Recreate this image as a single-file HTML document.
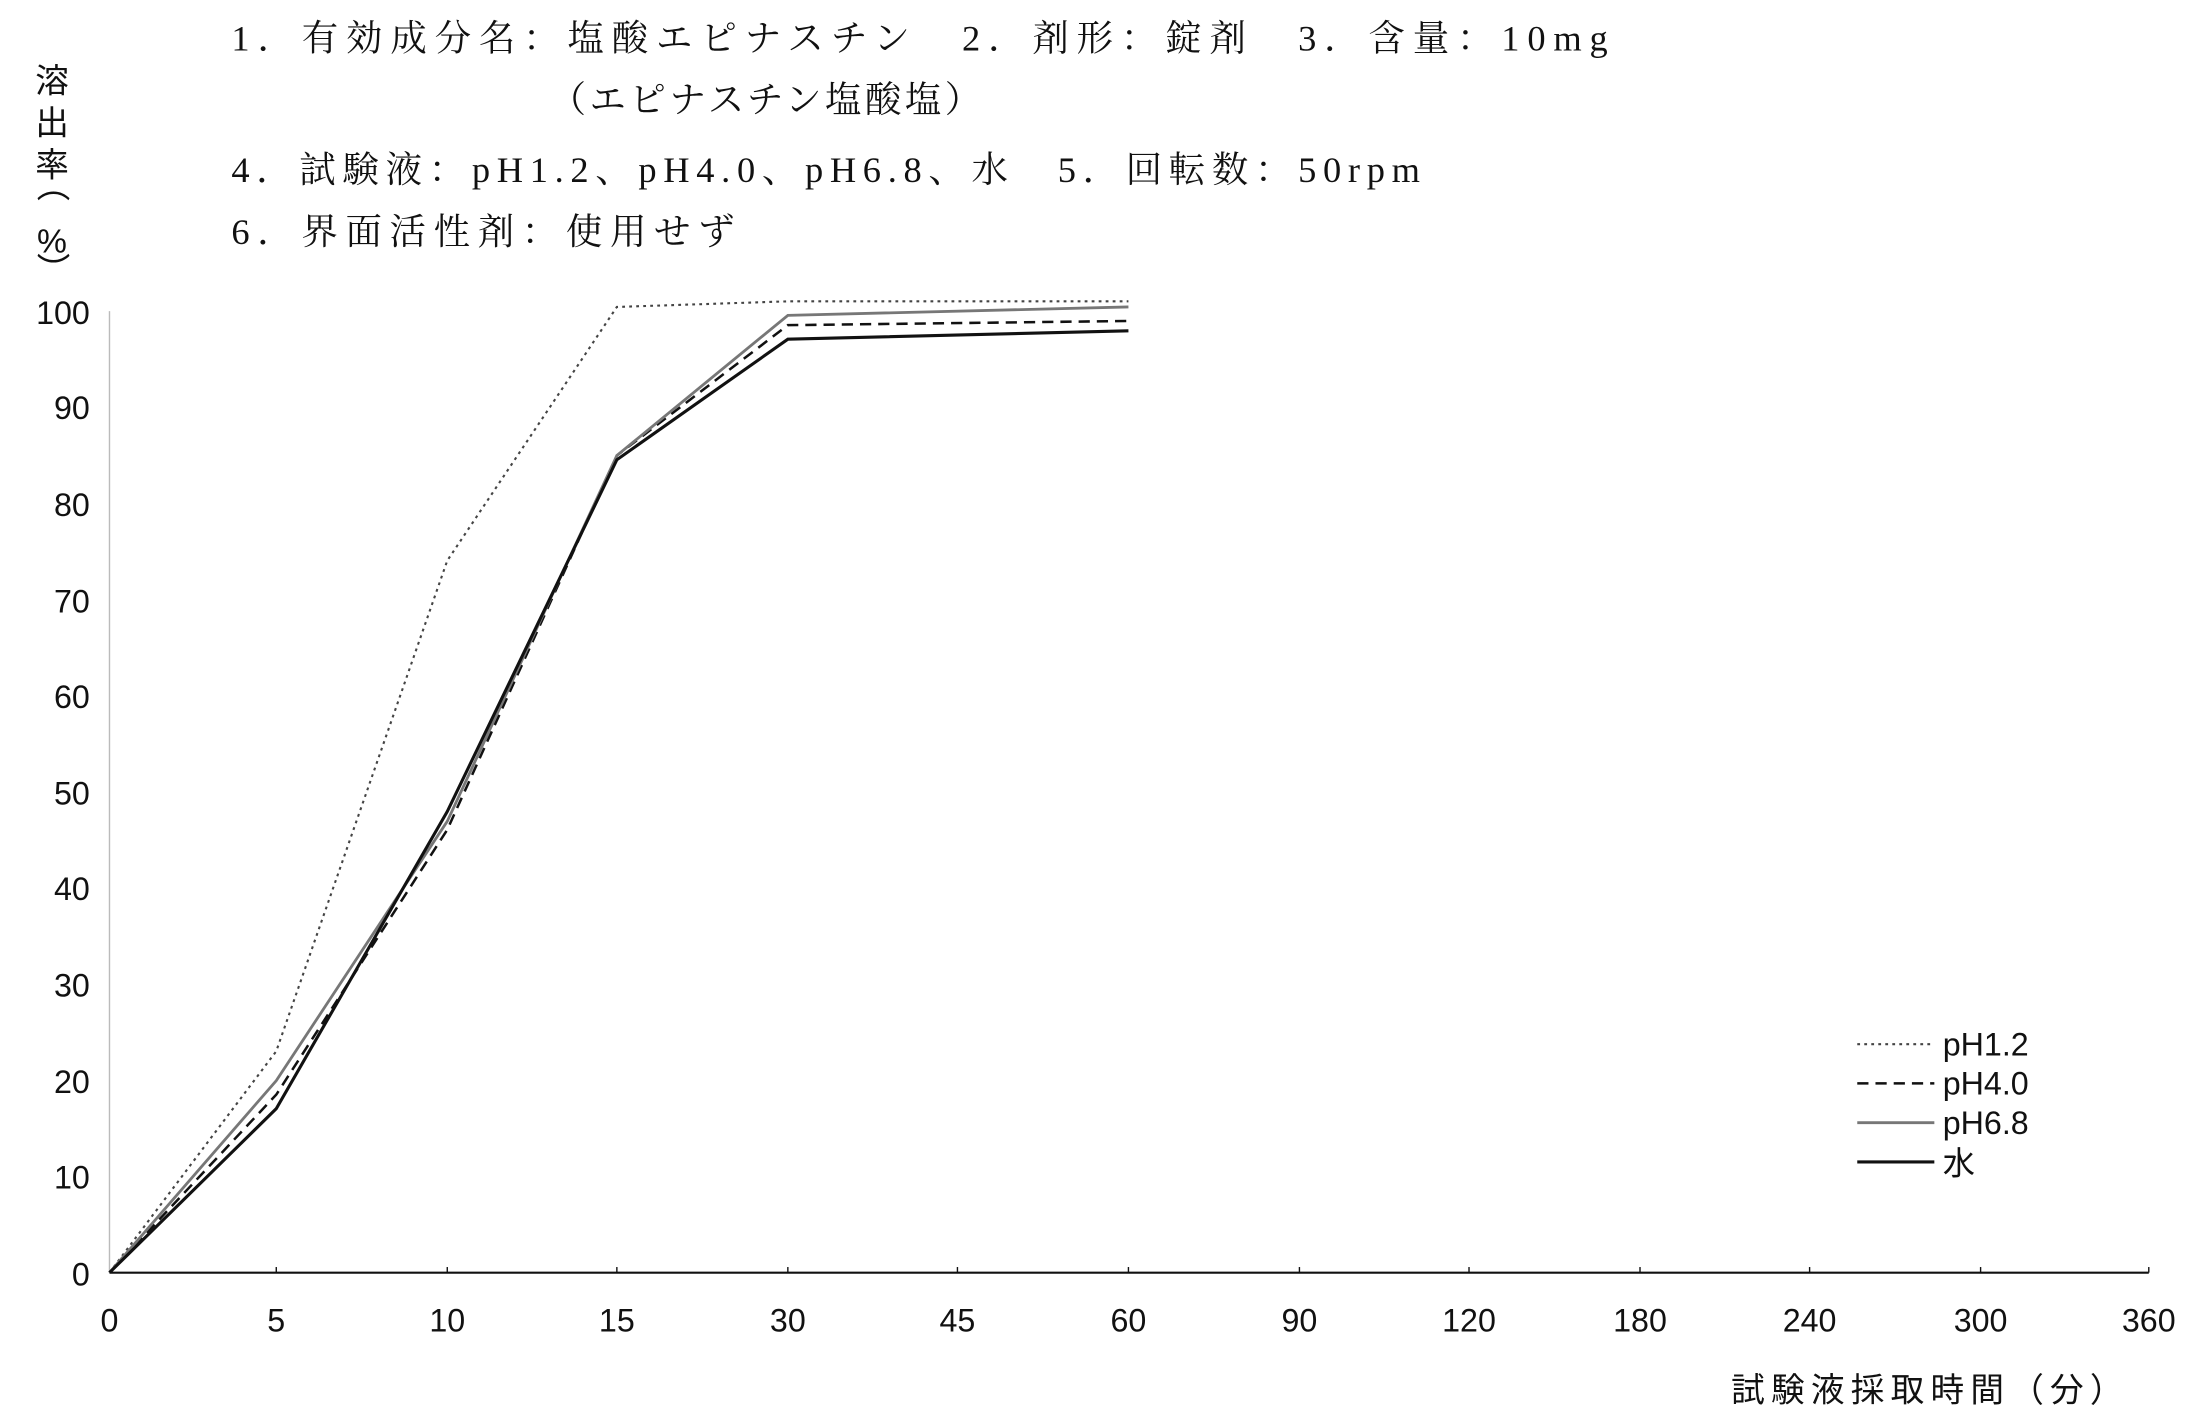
<!DOCTYPE html>
<html><head><meta charset="utf-8"><style>
html,body{margin:0;padding:0;background:#fff;}
svg{display:block;}
text{font-family:"Liberation Serif","Noto Serif CJK SC","Noto Sans CJK JP",serif;fill:#111;}
.s text, text.s{font-family:"Liberation Sans","Noto Sans CJK JP",sans-serif;}
</style></head><body>
<svg width="2198" height="1417" viewBox="0 0 1568 1011" xmlns="http://www.w3.org/2000/svg">
<g font-size="26">
<text x="165" y="36" textLength="982" lengthAdjust="spacing">1．有効成分名：塩酸エピナスチン　2．剤形：錠剤　3．含量：10mg</text>
<text x="392" y="80" textLength="308" lengthAdjust="spacing">（エピナスチン塩酸塩）</text>
<text x="165" y="130" textLength="848" lengthAdjust="spacing">4．試験液：pH1.2、pH4.0、pH6.8、水　5．回転数：50rpm</text>
<text x="165" y="174" textLength="359" lengthAdjust="spacing">6．界面活性剤：使用せず</text>
</g>
<g font-size="24" text-anchor="middle" class="s">
<text x="37" y="66">溶</text>
<text x="37" y="96">出</text>
<text x="37" y="126">率</text>
<text x="37" y="140" transform="rotate(90 37 132)">（</text>
<text x="37" y="180">%</text>
<text x="37" y="200" transform="rotate(90 37 192)">）</text>
</g>
<g font-size="23" text-anchor="end" class="s">
<text x="64" y="231">100</text><text x="64" y="299">90</text><text x="64" y="368">80</text>
<text x="64" y="437">70</text><text x="64" y="505">60</text><text x="64" y="574">50</text>
<text x="64" y="642">40</text><text x="64" y="711">30</text><text x="64" y="780">20</text>
<text x="64" y="848">10</text><text x="64" y="917">0</text>
</g>
<line x1="78" y1="222" x2="78" y2="908" stroke="#bbb" stroke-width="1"/>
<line x1="78" y1="908" x2="1533" y2="908" stroke="#111" stroke-width="1.5"/>
<g stroke="#111" stroke-width="1">
<line x1="197" y1="908" x2="197" y2="904"/><line x1="319" y1="908" x2="319" y2="904"/>
<line x1="440" y1="908" x2="440" y2="904"/><line x1="562" y1="908" x2="562" y2="904"/>
<line x1="683" y1="908" x2="683" y2="904"/><line x1="805" y1="908" x2="805" y2="904"/>
<line x1="927" y1="908" x2="927" y2="904"/><line x1="1048" y1="908" x2="1048" y2="904"/>
<line x1="1170" y1="908" x2="1170" y2="904"/><line x1="1291" y1="908" x2="1291" y2="904"/>
<line x1="1413" y1="908" x2="1413" y2="904"/><line x1="1533" y1="908" x2="1533" y2="904"/>
</g>
<g font-size="23" text-anchor="middle" class="s">
<text x="78" y="950">0</text><text x="197" y="950">5</text><text x="319" y="950">10</text>
<text x="440" y="950">15</text><text x="562" y="950">30</text><text x="683" y="950">45</text>
<text x="805" y="950">60</text><text x="927" y="950">90</text><text x="1048" y="950">120</text>
<text x="1170" y="950">180</text><text x="1291" y="950">240</text><text x="1413" y="950">300</text>
<text x="1533" y="950">360</text>
</g>
<text x="1235" y="1000" font-size="24" class="s" textLength="280" lengthAdjust="spacing">試験液採取時間（分）</text>
<g fill="none">
<polyline points="78,908 197,750 319,400 440,219 562,215 805,215" stroke="#444" stroke-width="1.5" stroke-dasharray="2,3"/>
<polyline points="78,908 197,781 319,592 440,325 562,232 805,229" stroke="#111" stroke-width="1.8" stroke-dasharray="8,5"/>
<polyline points="78,908 197,771 319,586 440,325 562,225 805,219" stroke="#777" stroke-width="2"/>
<polyline points="78,908 197,791 319,579 440,328 562,242 805,236" stroke="#111" stroke-width="2.2"/>
</g>
<g fill="none">
<line x1="1325" y1="745" x2="1380" y2="745" stroke="#444" stroke-width="1.5" stroke-dasharray="2,3"/>
<line x1="1325" y1="773" x2="1380" y2="773" stroke="#111" stroke-width="1.8" stroke-dasharray="8,5"/>
<line x1="1325" y1="801" x2="1380" y2="801" stroke="#777" stroke-width="2"/>
<line x1="1325" y1="829" x2="1380" y2="829" stroke="#111" stroke-width="2.2"/>
</g>
<g font-size="23" class="s">
<text x="1386" y="753">pH1.2</text><text x="1386" y="781">pH4.0</text>
<text x="1386" y="809">pH6.8</text><text x="1386" y="838">水</text>
</g>
</svg>
</body></html>
